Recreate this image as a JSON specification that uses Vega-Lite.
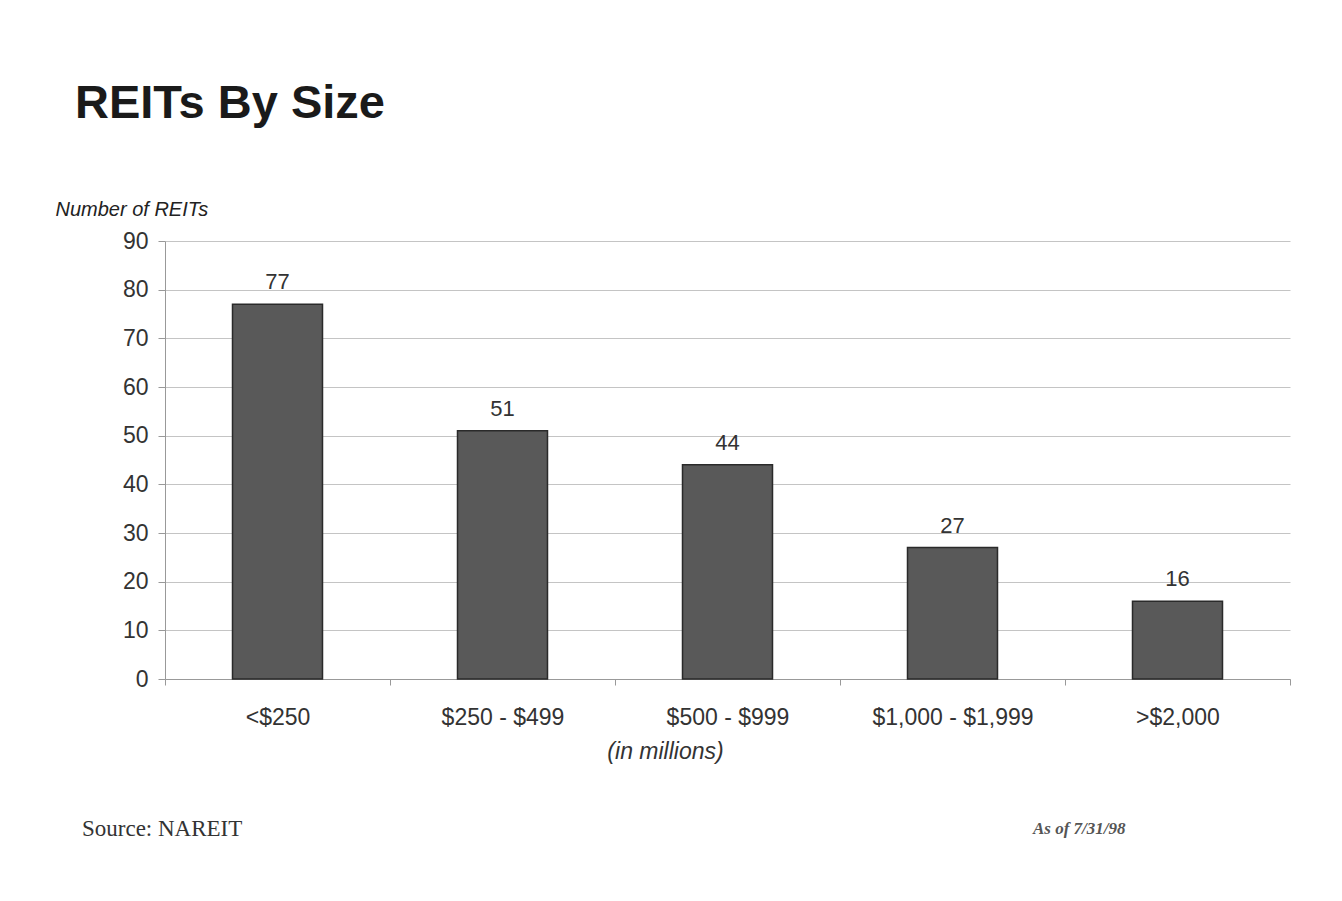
{
  "$schema": "https://vega.github.io/schema/vega-lite/v6.json",
  "autosize": {"type": "none"},
  "width": 1125,
  "height": 438,
  "padding": {"left": 165, "top": 241, "right": 52, "bottom": 222},
  "background": "white",
  "config": {
    "view": {"stroke": null},
    "font": "Liberation Sans"
  },
  "title": {
    "text": "REITs By Size",
    "anchor": "start",
    "frame": "group",
    "orient": "top",
    "font": "Liberation Sans, sans-serif",
    "fontSize": 47,
    "fontWeight": "bold",
    "color": "#1a1a1a",
    "dx": -90,
    "offset": 71
  },
  "datasets": {
    "bars": [
      {"size": "<$250", "count": 77},
      {"size": "$250 - $499", "count": 51},
      {"size": "$500 - $999", "count": 44},
      {"size": "$1,000 - $1,999", "count": 27},
      {"size": ">$2,000", "count": 16}
    ],
    "notes": [
      {"note": "Source: NAREIT", "kind": "source"},
      {"note": "As of 7/31/98", "kind": "date"}
    ]
  },
  "layer": [
    {
      "data": {"name": "bars"},
      "mark": {"type": "bar", "size": 90, "fill": "#595959", "stroke": "#2a2a2a", "strokeWidth": 1.5},
      "encoding": {
        "x": {
          "field": "size", "type": "nominal", "sort": null,
          "scale": {"paddingInner": 0, "paddingOuter": 0},
          "axis": {
            "title": "(in millions)",
            "titleFont": "Liberation Sans",
            "titleFontStyle": "italic",
            "titleFontWeight": "normal",
            "titleFontSize": 23,
            "titleColor": "#333333",
            "titleX": 500,
            "titleAlign": "center",
            "titleY": 72,
            "titleBaseline": "middle",
            "labelAngle": 0,
            "labelFontSize": 23,
            "labelColor": "#333333",
            "labelPadding": 21,
            "tickBand": "extent",
            "tickSize": 6,
            "tickColor": "#999999",
            "domainColor": "#999999",
            "domainWidth": 1,
            "grid": false
          }
        },
        "y": {
          "field": "count", "type": "quantitative",
          "scale": {"domain": [0, 90]},
          "axis": {
            "title": "Number of REITs",
            "titleFont": "Liberation Sans",
            "titleFontStyle": "italic",
            "titleFontWeight": "normal",
            "titleFontSize": 20,
            "titleColor": "#222222",
            "titleAngle": 0,
            "titleAlign": "left",
            "titleBaseline": "middle",
            "titleX": -110,
            "titleY": -32,
            "values": [0, 10, 20, 30, 40, 50, 60, 70, 80, 90],
            "labelFontSize": 23,
            "labelColor": "#333333",
            "labelPadding": 10,
            "tickSize": 7,
            "tickColor": "#999999",
            "domainColor": "#999999",
            "gridColor": "#c4c4c4",
            "gridWidth": 1
          }
        }
      }
    },
    {
      "data": {"name": "bars"},
      "mark": {"type": "text", "baseline": "middle", "dy": -22, "fontSize": 22, "color": "#333333"},
      "encoding": {
        "x": {"field": "size", "type": "nominal", "sort": null},
        "y": {"field": "count", "type": "quantitative"},
        "text": {"field": "count", "type": "quantitative"}
      }
    },
    {
      "data": {"name": "notes"},
      "transform": [{"filter": "datum.kind === 'source'"}],
      "mark": {"type": "text", "align": "left", "baseline": "middle", "dx": -83, "dy": 4, "font": "Liberation Serif", "fontSize": 23, "color": "#333333", "clip": false},
      "encoding": {
        "x": {"datum": "<$250", "type": "nominal", "bandPosition": 0},
        "y": {"datum": -30, "type": "quantitative"},
        "text": {"field": "note"}
      }
    },
    {
      "data": {"name": "notes"},
      "transform": [{"filter": "datum.kind === 'date'"}],
      "mark": {"type": "text", "align": "left", "baseline": "middle", "dx": -32, "dy": 4, "font": "Liberation Serif", "fontSize": 17, "fontStyle": "italic", "fontWeight": "bold", "color": "#555555", "clip": false},
      "encoding": {
        "x": {"datum": ">$2,000", "type": "nominal", "bandPosition": 0},
        "y": {"datum": -30, "type": "quantitative"},
        "text": {"field": "note"}
      }
    }
  ]
}
